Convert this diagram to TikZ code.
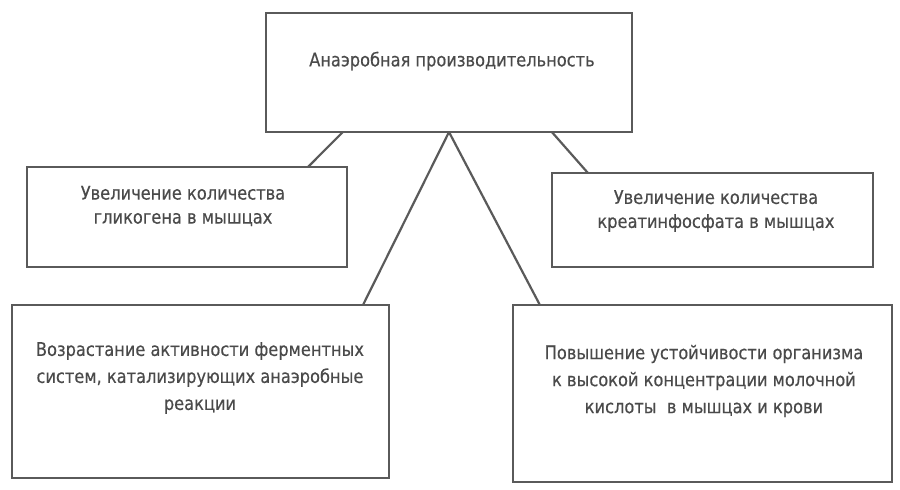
\documentclass[tikz,border=0pt]{standalone}
\usepackage{fontspec}
\setmainfont[FakeStretch=0.96,FakeBold=0.4]{DejaVu Sans Condensed}
\usetikzlibrary{calc}
\definecolor{ink}{HTML}{5A5A5A}
\definecolor{txt}{HTML}{4A4A4A}
\begin{document}
\begin{tikzpicture}[x=1pt,y=-1pt,
  box/.style={draw=ink,line width=2.6pt,rectangle,inner sep=0pt,outer sep=0pt},
  lbl/.style={text=txt,align=center,inner sep=0pt,font=\fontsize{18.8}{24}\selectfont},
  lblb/.style={lbl,font=\fontsize{18.8}{27}\selectfont},
  conn/.style={draw=ink,line width=2.2pt}]
\useasboundingbox (0,0) rectangle (900,490);
\node[box,minimum width=366pt,minimum height=119pt] (top) at (449,72.5) {};
\node[box,minimum width=320pt,minimum height=100pt] (lm) at (187,217) {};
\node[box,minimum width=377pt,minimum height=173pt] (lb) at (200.5,391.5) {};
\node[box,minimum width=321pt,minimum height=94pt] (rm) at (712.5,220) {};
\node[box,minimum width=379pt,minimum height=177pt] (rb) at (702.5,393.5) {};
\node[lbl] (ttop) at (452,61) {Анаэробная производительность};
\node[lbl] (tlm) at (183,206) {Увеличение количества\\гликогена в мышцах};
\node[lbl] (trm) at (716,211) {Увеличение количества\\креатинфосфата в мышцах};
\node[lblb] (tlb) at (200,378) {Возрастание активности ферментных\\систем, катализирующих анаэробные\\реакции};
\node[lblb] (trb) at (704,381) {Повышение устойчивости организма\\к высокой концентрации молочной\\кислоты \ в мышцах и крови};
\draw[conn] ($(top.south west)!0.21!(top.south east)$) -- ($(lm.north west)!0.878!(lm.north east)$);
\draw[conn] ($(top.south west)!0.781!(top.south east)$) -- ($(rm.north west)!0.112!(rm.north east)$);
\draw[conn] (top.south) -- ($(lb.north west)!0.931!(lb.north east)$);
\draw[conn] (top.south) -- ($(rb.north west)!0.071!(rb.north east)$);
\end{tikzpicture}
\end{document}
